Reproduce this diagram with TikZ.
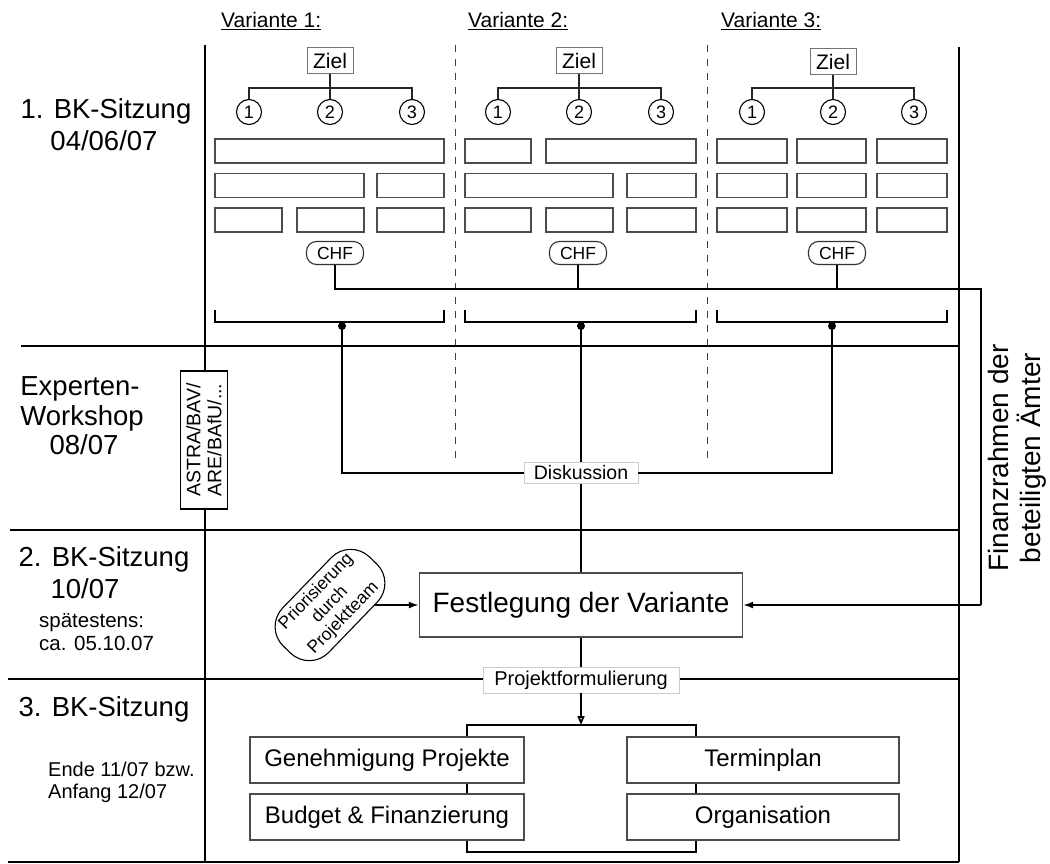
\documentclass[tikz,border=0pt]{standalone}
\usepackage{fontspec}
\setmainfont{Liberation Sans}
\usetikzlibrary{arrows.meta}
\begin{document}
\begin{tikzpicture}[x=1pt,y=-1pt,
  gridline/.style={line width=1.9pt,black},
  dsh/.style={line width=1pt,black!75,dash pattern=on 7pt off 7pt},
  conn/.style={line width=1.8pt,black},
  treeline/.style={line width=1.1pt,black!85},
  gbox/.style={draw=black!70,line width=1.3pt,fill=white,minimum height=24pt,inner sep=0pt},
  ziel/.style={draw=black!55,line width=1pt,fill=white,minimum width=46pt,minimum height=26pt,inner sep=0pt,font=\fontsize{21}{24}\selectfont},
  num/.style={circle,draw=black,line width=1.1pt,fill=white,minimum size=25pt,inner sep=0pt,font=\fontsize{18}{20}\selectfont},
  chf/.style={draw=black!80,line width=1.1pt,rounded corners=10pt,fill=white,minimum width=57pt,minimum height=23pt,inner sep=0pt,font=\fontsize{17.5}{20}\selectfont},
  dotn/.style={circle,fill=black,minimum size=8pt,inner sep=0pt},
  big/.style={font=\fontsize{27.5}{32}\selectfont},
  mid/.style={font=\fontsize{20.5}{23}\selectfont},
  head/.style={font=\fontsize{21}{24}\selectfont,anchor=base west,inner sep=0pt},
  lbl/.style={draw=black!20,line width=0.8pt,fill=white,inner sep=0pt,font=\fontsize{19.5}{22}\selectfont},
  mainbox/.style={draw=black!70,line width=1.3pt,fill=white,inner sep=0pt,font=\fontsize{24}{28}\selectfont}
]
\useasboundingbox (0,0) rectangle (1050,864);

% ---------- grid ----------
\draw[gridline] (205,45) -- (205,862);
\draw[gridline] (959,47) -- (959,862);
\draw[dsh] (455,45) -- (455,460);
\draw[dsh] (707,45) -- (707,460);
\draw[gridline] (21,346) -- (959,346);
\draw[gridline] (10,530) -- (959,530);
\draw[gridline] (8,679) -- (959,679);
\draw[gridline] (8,862) -- (959,862);

% ---------- headers ----------
\node[head] (h1) at (221,28) {\underline{Variante 1:}};
\node[head] (h2) at (468,28) {\underline{Variante 2:}};
\node[head] (h3) at (721,28) {\underline{Variante 3:}};

% ---------- left labels ----------
\node[big,anchor=base] (l1a) at (106,119) {1. BK-Sitzung};
\node[big,anchor=base] (l1b) at (104,150) {04/06/07};
\node[big,anchor=base] (l2a) at (80,395) {Experten-};
\node[big,anchor=base] (l2b) at (82,425) {Workshop};
\node[big,anchor=base] (l2c) at (84,454) {08/07};
\node[big,anchor=base] (l3a) at (104,566) {2. BK-Sitzung};
\node[big,anchor=base] (l3b) at (85,598) {10/07};
\node[mid,anchor=base west,inner sep=0pt] (l3c) at (39,627) {spätestens:};
\node[mid,anchor=base west,inner sep=0pt] (l3d) at (39,650) {ca. 05.10.07};
\node[big,anchor=base] (l4a) at (104,716) {3. BK-Sitzung};
\node[font=\fontsize{20}{23}\selectfont,anchor=base west,inner sep=0pt] (l4b) at (48,776) {Ende 11/07 bzw.};
\node[font=\fontsize{20}{23}\selectfont,anchor=base west,inner sep=0pt] (l4c) at (48,798) {Anfang 12/07};

% ---------- Variante 1 ----------
\node[ziel] (z1) at (330,61) {Ziel};
\node[num] (c11) at (249,112) {1};
\node[num] (c12) at (330,112) {2};
\node[num] (c13) at (412,112) {3};
\coordinate (t1) at (330,88);
\draw[treeline] (z1.south) -- (c12.north);
\draw[treeline] (c11.north) |- (t1) -| (c13.north);
\node[gbox,minimum width=229pt] (a11) at (329.5,151) {};
\node[gbox,minimum width=149pt] (a21) at (289.5,185.5) {};
\node[gbox,minimum width=67pt] (a22) at (410.5,185.5) {};
\node[gbox,minimum width=67pt] (a31) at (248.5,220) {};
\node[gbox,minimum width=67pt] (a32) at (330.5,220) {};
\node[gbox,minimum width=67pt] (a33) at (410.5,220) {};
\node[chf] (chf1) at (335,253) {CHF};

% ---------- Variante 2 ----------
\node[ziel] (z2) at (579,61) {Ziel};
\node[num] (c21) at (498,112) {1};
\node[num] (c22) at (579,112) {2};
\node[num] (c23) at (661,112) {3};
\coordinate (t2) at (579,88);
\draw[treeline] (z2.south) -- (c22.north);
\draw[treeline] (c21.north) |- (t2) -| (c23.north);
\node[gbox,minimum width=66pt] (b11) at (498,151) {};
\node[gbox,minimum width=150pt] (b12) at (621,151) {};
\node[gbox,minimum width=148pt] (b21) at (539,185.5) {};
\node[gbox,minimum width=69pt] (b22) at (661.5,185.5) {};
\node[gbox,minimum width=66pt] (b31) at (498,220) {};
\node[gbox,minimum width=67pt] (b32) at (579.5,220) {};
\node[gbox,minimum width=69pt] (b33) at (661.5,220) {};
\node[chf] (chf2) at (578,253) {CHF};

% ---------- Variante 3 ----------
\node[ziel] (z3) at (833,62) {Ziel};
\node[num] (c31) at (752,112) {1};
\node[num] (c32) at (833,112) {2};
\node[num] (c33) at (914,112) {3};
\coordinate (t3) at (833,88);
\draw[treeline] (z3.south) -- (c32.north);
\draw[treeline] (c31.north) |- (t3) -| (c33.north);
\foreach \r/\yy in {1/151,2/185.5,3/220}{
  \node[gbox,minimum width=70pt] (k\r1) at (752,\yy) {};
  \node[gbox,minimum width=69pt] (k\r2) at (831.5,\yy) {};
  \node[gbox,minimum width=70pt] (k\r3) at (912,\yy) {};
}
\node[chf] (chf3) at (837,253) {CHF};

% ---------- brackets ----------
\draw[conn] (215,310) |- (444,322) -- (444,310);
\draw[conn] (465,310) |- (696,322) -- (696,310);
\draw[conn] (717,310) |- (947,322) -- (947,310);
\node[dotn] (d1) at (342,326) {};
\node[dotn] (d2) at (581,326) {};
\node[dotn] (d3) at (832,326) {};

% ---------- Finanzrahmen ----------
\coordinate (ft1) at (981,289);
\coordinate (ft2) at (981,605);
\draw[conn] (chf1.south) |- (ft1) -- (ft2);
\draw[conn] (chf2.south) -- (chf2.south |- ft1);
\draw[conn] (chf3.south) -- (chf3.south |- ft1);
\node[rotate=90,align=center,font=\fontsize{28}{32}\selectfont,inner sep=0pt] (fin) at (1017,458) {Finanzrahmen der\\beteiligten Ämter};

% ---------- ASTRA ----------
\node[rotate=90,draw=black,line width=1.4pt,fill=white,minimum width=138pt,minimum height=47pt,inner sep=0pt,align=center,font=\fontsize{19.5}{21}\selectfont] (astra) at (204,440) {ASTRA/BAV/\\ARE/BAfU/...};

% ---------- Diskussion / Festlegung ----------
\node[lbl,minimum width=114pt,minimum height=21pt] (disk) at (581,473) {Diskussion};
\draw[conn] (d1.center) |- (disk.west);
\draw[conn] (d3.center) |- (disk.east);
\draw[conn] (d2.center) -- (disk.north);

\node[mainbox,minimum width=323pt,minimum height=64pt,font=\fontsize{28}{32}\selectfont] (fest) at (581,605) {Festlegung der Variante};
\draw[conn] (disk.south) -- (fest.north);
\draw[conn,-{Latex[length=10pt,width=7pt]}] (ft2) -- (fest.east);

\node[rotate=46,draw=black,line width=1.1pt,fill=white,rounded corners=27pt,minimum width=124pt,minimum height=64pt,inner sep=0pt,align=center,font=\fontsize{17.5}{19}\selectfont] (prio) at (330,605) {Priorisierung\\durch\\Projektteam};
\draw[conn,-{Latex[length=10pt,width=7pt]}] (prio) -- (fest.west);

% ---------- Projektformulierung ----------
\node[lbl,minimum width=196pt,minimum height=26pt,font=\fontsize{20}{23}\selectfont] (pf) at (581,680) {Projektformulierung};
\draw[conn] (fest.south) -- (pf.north);
\draw[conn] (467,725) rectangle (696,852);
\coordinate (ftop) at (581,725);
\draw[conn,-{Triangle[open,length=9pt,width=7pt]}] (pf.south) -- (ftop);

\node[mainbox,minimum width=274pt,minimum height=46pt] (gen) at (387,760) {Genehmigung Projekte};
\node[mainbox,minimum width=274pt,minimum height=46pt] (bud) at (387,817) {Budget \& Finanzierung};
\node[mainbox,minimum width=272pt,minimum height=46pt] (ter) at (763,760) {Terminplan};
\node[mainbox,minimum width=272pt,minimum height=46pt] (org) at (763,817) {Organisation};
\end{tikzpicture}
\end{document}
